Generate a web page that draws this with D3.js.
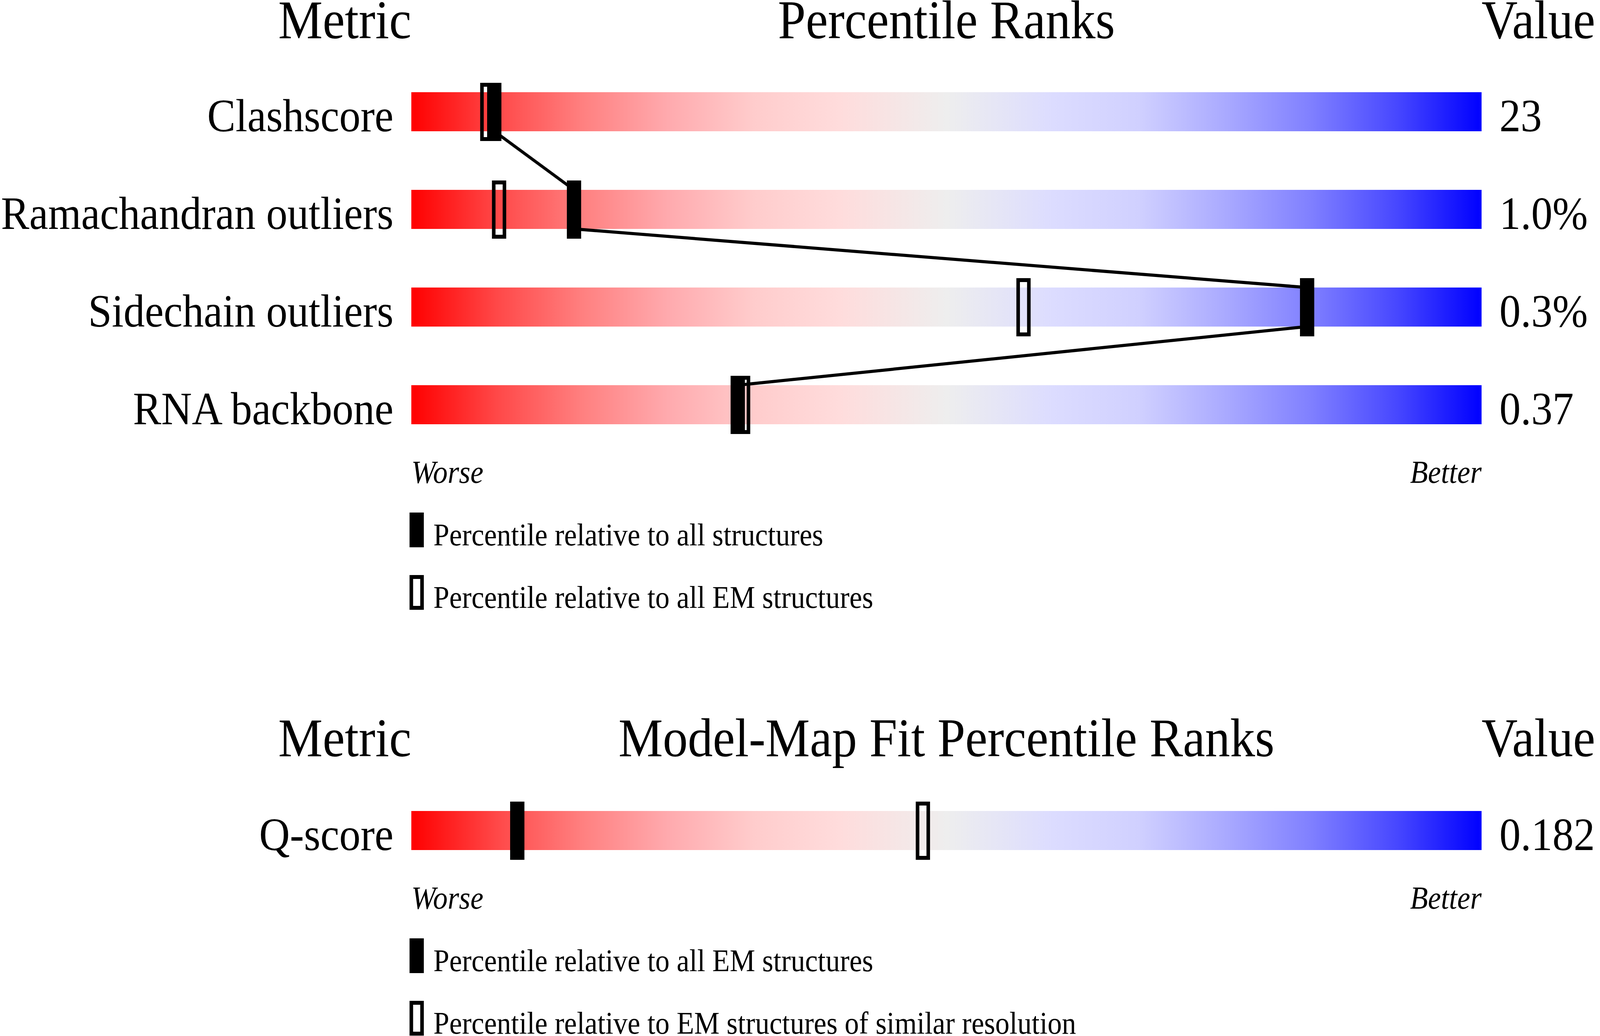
<!DOCTYPE html>
<html>
<head>
<meta charset="utf-8">
<script src="https://cdn.jsdelivr.net/npm/d3@7"></script>
<style>
  html, body { margin: 0; padding: 0; background: #ffffff; overflow: hidden; width: 100%; height: 100%; }
  #chart { width: 100vw; height: 100vh; }
  svg { display: block; width: 100vw; height: 100vh; }
  text { font-family: "Liberation Serif", "Times New Roman", Times, serif; fill: #000; }
</style>
</head>
<body>
<div id="chart"></div>
<script>
// ---------- data ----------
const metrics = ["Clashscore", "Ramachandran outliers", "Sidechain outliers", "RNA backbone"];
const metricValues = ["23", "1.0%", "0.3%", "0.37"];
const pctAllStructures = [7.75, 15.2, 83.7, 30.5];
const pctEMStructures = [7.1, 8.2, 57.2, 31.0];

const fitMetrics = ["Q-score"];
const fitValues = ["0.182"];
const fitPctAllEM = [9.9];
const fitPctSimilarRes = [47.8];

const headers1 = ["Metric", "Percentile Ranks", "Value"];
const headers2 = ["Metric", "Model-Map Fit Percentile Ranks", "Value"];
const scaleEnds = ["Worse", "Better"];
const legend1 = ["Percentile relative to all structures", "Percentile relative to all EM structures"];
const legend2 = ["Percentile relative to all EM structures", "Percentile relative to EM structures of similar resolution"];

// gradient (style)
const gradStops = [
  [0.00, "rgb(255,0,0)"],
  [0.08, "rgb(255,72,72)"],
  [0.16, "rgb(255,128,128)"],
  [0.24, "rgb(255,170,174)"],
  [0.32, "rgb(255,204,204)"],
  [0.40, "rgb(255,220,220)"],
  [0.50, "rgb(238,238,238)"],
  [0.60, "rgb(220,220,255)"],
  [0.68, "rgb(208,208,255)"],
  [0.76, "rgb(170,170,255)"],
  [0.84, "rgb(128,128,255)"],
  [0.92, "rgb(72,72,255)"],
  [1.00, "rgb(0,0,255)"]
];

// ---------- layout ----------
const W = 4485, H = 2652;
const barLeft = 1153, barRight = 4153;
const titleSize = 140, labelSize = 119, legendSize = 80, endSize = 82;

const svg = d3.select("#chart").append("svg")
  .attr("viewBox", `0 0 ${W} ${H}`)
  .attr("preserveAspectRatio", "none");

const x = d3.scaleLinear().domain([0, 100]).range([barLeft, barRight]);

const defs = svg.append("defs");
const grad = defs.append("linearGradient")
  .attr("id", "pgrad")
  .attr("gradientUnits", "userSpaceOnUse")
  .attr("x1", barLeft).attr("x2", barRight).attr("y1", 0).attr("y2", 0);
grad.selectAll("stop").data(gradStops).join("stop")
  .attr("offset", d => d[0]).attr("stop-color", d => d[1]);

function headers(g, labels, baseline) {
  g.append("text").attr("x", barLeft).attr("y", baseline)
    .attr("text-anchor", "end").attr("font-size", titleSize).text(labels[0]);
  g.append("text").attr("x", (barLeft + barRight) / 2).attr("y", baseline)
    .attr("text-anchor", "middle").attr("font-size", titleSize).text(labels[1]);
  g.append("text").attr("x", barRight).attr("y", baseline)
    .attr("text-anchor", "start").attr("font-size", titleSize).text(labels[2]);
}

function panel(g, names, vals, pFilled, pOpen, y, withLine) {
  const rows = names.map((n, i) => ({ name: n, value: vals[i], pf: pFilled[i], po: pOpen[i] }));
  const bw = y.bandwidth();

  g.selectAll("rect.bar").data(rows).join("rect")
    .attr("class", "bar")
    .attr("x", x(0)).attr("width", x(100) - x(0))
    .attr("y", d => y(d.name)).attr("height", bw)
    .attr("fill", "url(#pgrad)");

  g.selectAll("text.label").data(rows).join("text")
    .attr("class", "label")
    .attr("x", barLeft - 50).attr("y", d => y(d.name) + bw)
    .attr("text-anchor", "end").attr("font-size", labelSize)
    .text(d => d.name);

  g.selectAll("text.val").data(rows).join("text")
    .attr("class", "val")
    .attr("x", barRight + 50).attr("y", d => y(d.name) + bw)
    .attr("text-anchor", "start").attr("font-size", labelSize)
    .text(d => d.value);

  if (withLine && rows.length > 1) {
    const segs = d3.pairs(rows);
    const line = d3.line();
    g.selectAll("path.link").data(segs).join("path")
      .attr("class", "link")
      .attr("d", ([a, b]) => line([[x(a.pf), y(a.name) + bw], [x(b.pf), y(b.name)]]))
      .attr("fill", "none").attr("stroke", "#000").attr("stroke-width", 8);
  }

  const mw = 40, over = 24, mh = bw + 49, sw = 10;
  g.selectAll("rect.open").data(rows).join("rect")
    .attr("class", "open")
    .attr("x", d => x(d.po) - mw / 2 + sw / 2)
    .attr("y", d => y(d.name) - over + sw / 2)
    .attr("width", mw - sw).attr("height", mh - sw)
    .attr("fill", "none").attr("stroke", "#000").attr("stroke-width", sw);

  g.selectAll("rect.filled").data(rows).join("rect")
    .attr("class", "filled")
    .attr("x", d => x(d.pf) - mw / 2)
    .attr("y", d => y(d.name) - over)
    .attr("width", mw).attr("height", mh)
    .attr("fill", "#000");
}

function ends(g, baseline) {
  g.append("text").attr("x", barLeft).attr("y", baseline)
    .attr("font-size", endSize).attr("font-style", "italic").text(scaleEnds[0]);
  g.append("text").attr("x", barRight).attr("y", baseline)
    .attr("text-anchor", "end")
    .attr("font-size", endSize).attr("font-style", "italic").text(scaleEnds[1]);
}

function legend(g, labels, top) {
  const lx = 1148, lw = 40, lh = 89, sw = 10;
  g.append("rect").attr("x", lx).attr("y", top).attr("width", lw).attr("height", lh).attr("fill", "#000");
  g.append("rect").attr("x", lx + sw / 2).attr("y", top + 160 + sw / 2)
    .attr("width", lw - sw).attr("height", lh - sw)
    .attr("fill", "none").attr("stroke", "#000").attr("stroke-width", sw);
  g.selectAll("text.leg").data(labels).join("text")
    .attr("class", "leg")
    .attr("x", 1215).attr("y", (d, i) => top + 84 + i * 160)
    .attr("font-size", legendSize).text(d => d);
}

// ---------- panel 1 ----------
const g1 = svg.append("g");
headers(g1, headers1, 98);
const y1 = d3.scaleBand().domain(metrics).range([161, 1161]).paddingInner(0.6).paddingOuter(0.3);
panel(g1, metrics, metricValues, pctAllStructures, pctEMStructures, y1, true);
ends(g1, 1236);
legend(g1, legend1, 1312);

// ---------- panel 2 ----------
const g2 = svg.append("g");
headers(g2, headers2, 1936);
const y2 = d3.scaleBand().domain(fitMetrics).range([2076, 2176]);
panel(g2, fitMetrics, fitValues, fitPctAllEM, fitPctSimilarRes, y2, false);
ends(g2, 2326);
legend(g2, legend2, 2402);
</script>
</body>
</html>
